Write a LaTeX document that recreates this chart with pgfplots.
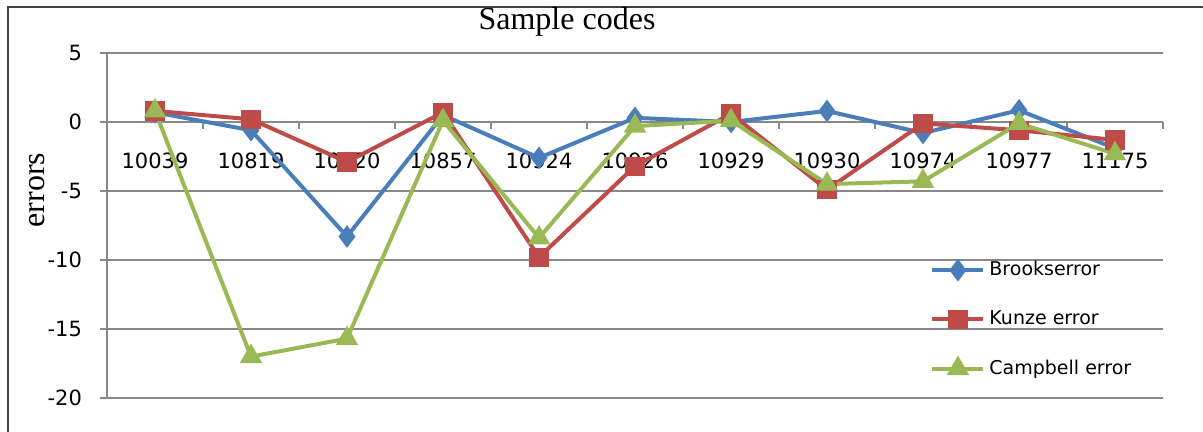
\documentclass[border=0pt]{standalone}
\usepackage{pgfplots}
\pgfplotsset{compat=1.18}
\usepackage{fontspec}
\setmainfont{DejaVu Sans}
\newfontfamily\serif{Liberation Serif}
\definecolor{brooks}{HTML}{4A7EBB}
\definecolor{kunze}{HTML}{BE4B48}
\definecolor{campbell}{HTML}{98B954}
\definecolor{axgray}{HTML}{888888}
\pgfplotsset{
    frame/.style={at={(53.5pt,17pt)}, anchor=south west,
        scale only axis, width=528pt, height=172.5pt,
        xmin=0.5, xmax=11.5, ymin=-20, ymax=5, clip=false},
}

\begin{document}
\begin{tikzpicture}
\useasboundingbox (0,0) rectangle (601.5pt,216pt);
% chart frame
\draw[black!75, line width=0.8pt] (4pt,-1pt) -- (4pt,212.5pt) -- (603pt,212.5pt);
% axes, grid and tick labels first, so the series lie on top of them
\begin{axis}[
    frame,
    axis x line=middle, axis y line=left,
    axis line style={-, draw=axgray, line width=0.75pt},
    tick align=outside, major tick length=3.5pt, minor tick length=3.5pt,
    tick style={axgray, line width=0.75pt},
    xtick={1,...,11},
    xticklabels={10039,10819,10820,10857,10924,10926,10929,10930,10974,10977,11175},
    minor xtick={0.5,1.5,...,11.5},
    major x tick style={draw=none},
    xticklabel style={font=\fontsize{10.5}{12}\selectfont, yshift=-8.5pt},
    ytick={-20,-15,-10,-5,0,5},
    yticklabels={-20,-15,-10,-5,0,5},
    yticklabel style={font=\fontsize{10.5}{12}\selectfont, xshift=-5.5pt},
    ymajorgrids, grid style={axgray, line width=0.75pt},
]
\end{axis}
\begin{axis}[
    frame, hide axis,
    legend style={at={(0.7756,0.42)}, anchor=north west, draw=none, fill=none,
        font=\fontsize{9.5}{11}\selectfont, row sep=12pt, inner sep=2pt},
    legend cell align=left,
    legend image code/.code={\draw[mark repeat=2, mark phase=2] plot coordinates {(0pt,0pt) (12.75pt,0pt) (25.5pt,0pt)};},
]
\addplot[brooks, line width=2pt, mark=diamond*, mark size=4pt, mark options={solid}] coordinates {
    (1,0.7) (2,-0.6) (3,-8.3) (4,0.5) (5,-2.6) (6,0.3) (7,0.0) (8,0.8) (9,-0.8) (10,0.85) (11,-1.9)};
\addlegendentry{Brookserror}
\addplot[kunze, line width=2pt, mark=square*, mark size=3.8pt, mark options={solid}] coordinates {
    (1,0.8) (2,0.2) (3,-2.9) (4,0.7) (5,-9.8) (6,-3.2) (7,0.6) (8,-4.9) (9,-0.1) (10,-0.6) (11,-1.3)};
\addlegendentry{Kunze error}
\addplot[campbell, line width=2pt, mark=triangle*, mark size=4.5pt, mark options={solid}] coordinates {
    (1,0.8) (2,-17.0) (3,-15.7) (4,0.1) (5,-8.4) (6,-0.3) (7,0.1) (8,-4.5) (9,-4.3) (10,-0.1) (11,-2.3)};
\addlegendentry{Campbell error}
\end{axis}
\node[font=\serif\fontsize{16}{19}\selectfont] at (283.5pt,205pt) {Sample codes};
\node[rotate=90, font=\serif\fontsize{16}{19}\selectfont] at (18.5pt,121pt) {errors};
\end{tikzpicture}
\end{document}
